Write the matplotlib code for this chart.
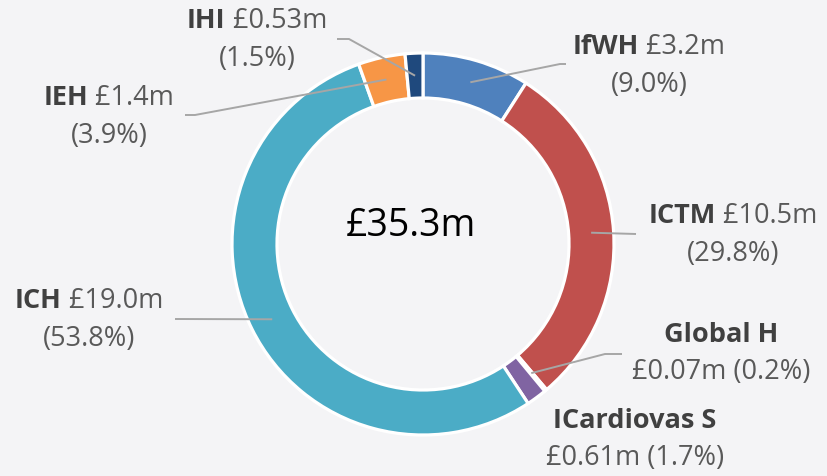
import numpy as np
import matplotlib
matplotlib.use("Agg")
import matplotlib.pyplot as plt
from matplotlib.offsetbox import TextArea, HPacker, VPacker, AnnotationBbox

# data, clockwise from 12 o'clock
names = ["IfWH", "ICTM", "Global H", "ICardiovas S", "ICH", "IEH", "IHI"]
amounts = [3.2, 10.5, 0.07, 0.61, 19.0, 1.4, 0.53]
amount_labels = ["£3.2m", "£10.5m", "£0.07m", "£0.61m", "£19.0m", "£1.4m", "£0.53m"]
pct_labels = ["9.0%", "29.8%", "0.2%", "1.7%", "53.8%", "3.9%", "1.5%"]
total_label = "£35.3m"

colors = ["#4F81BD", "#C0504D", "#9BBB59", "#8064A2", "#4BACC6", "#F79646", "#1F497D"]

W, H = 828, 476
BG = "#F4F4F6"
TXT = "#595959"
LINE = "#A6A6A6"
FONT = "Open Sans"
FS = 19.5

# label layout in pixel coords (y from top): block centre, leader end path
label_pos = {
    "IfWH": (649, 66),
    "ICTM": (733, 235),
    "Global H": (721, 354),
    "ICardiovas S": (635, 440),
    "ICH": (89, 320),
    "IEH": (109, 117),
    "IHI": (257, 40),
}
leader_ends = {
    "IfWH": [(560, 64), (566, 64)],
    "ICTM": [(636, 234)],
    "Global H": [(605, 354), (622, 354)],
    "ICH": [(175, 319)],
    "IEH": [(195, 115), (185, 115)],
    "IHI": [(349, 39), (337, 39)],
}
# two-line layout: name + amount on line 1, or name alone
split_names = ["Global H", "ICardiovas S"]

cx, cy, R, ring = 423, H - 244, 191, 45

fig = plt.figure(figsize=(W / 100, H / 100), dpi=100, facecolor=BG)
ax = fig.add_axes([0, 0, 1, 1])
ax.set_facecolor(BG)

wedges, _ = ax.pie(amounts, colors=colors, startangle=90, counterclock=False,
                   center=(cx, cy), radius=R,
                   wedgeprops=dict(width=ring, edgecolor="white", linewidth=2.3))
ax.set_xlim(0, W)
ax.set_ylim(0, H)
ax.set_aspect("equal")
ax.axis("off")

ax.text(411, H - 226, total_label, ha="center", va="center",
        fontsize=27, color="black", family=FONT)


def txt(s, bold=False):
    return TextArea(s, textprops=dict(fontsize=FS, color="#404040" if bold else TXT,
                                      family=FONT,
                                      fontweight="bold" if bold else "normal"))


for i, name in enumerate(names):
    w = wedges[i]
    mid = np.deg2rad((w.theta1 + w.theta2) / 2)
    rm = R - ring / 2
    start = (cx + rm * np.cos(mid), cy + rm * np.sin(mid))

    if name in leader_ends:
        pts = [start] + [(x, H - y) for x, y in leader_ends[name]]
        xs, ys = zip(*pts)
        ax.plot(xs, ys, color=LINE, lw=1.4, solid_capstyle="butt")

    if name in split_names:
        line1 = txt(name, bold=True)
        line2 = txt(f"{amount_labels[i]} ({pct_labels[i]})")
    else:
        line1 = HPacker(children=[txt(name, bold=True), txt(" " + amount_labels[i])],
                        align="baseline", pad=0, sep=0)
        line2 = txt(f"({pct_labels[i]})")
    box = VPacker(children=[line1, line2], align="center", pad=0, sep=7)
    lx, ly = label_pos[name]
    ab = AnnotationBbox(box, (lx, H - ly), xycoords="data", frameon=False,
                        box_alignment=(0.5, 0.5), pad=0)
    ax.add_artist(ab)

fig.savefig("out.png", dpi=100, facecolor=BG)
